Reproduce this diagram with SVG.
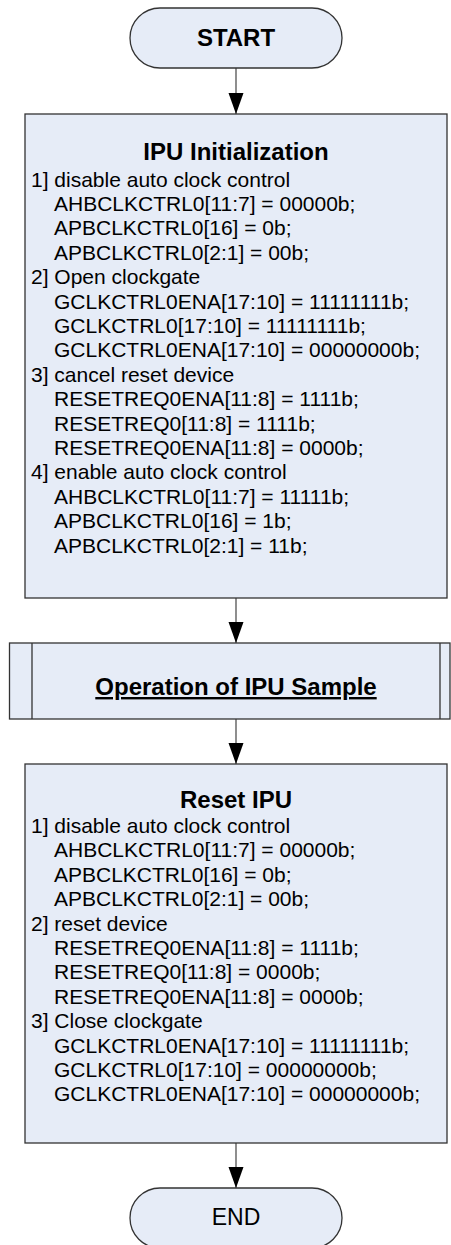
<svg xmlns="http://www.w3.org/2000/svg" width="451" height="1245" viewBox="0 0 451 1245">
  <defs>
    <marker id="arrow" markerWidth="22" markerHeight="16" refX="21" refY="7.5" orient="auto" markerUnits="userSpaceOnUse">
      <path d="M0,0 L21,7.5 L0,15 Z" fill="#000"/>
    </marker>
    <style>
      .box { fill: #E6ECF7; stroke: #333; stroke-width: 1.3; }
      .conn { stroke: #444; stroke-width: 1.2; fill: none; }
      text { font-family: "Liberation Sans", Arial, sans-serif; fill: #000; }
      .head { font-weight: bold; font-size: 24px; text-anchor: middle; }
      .term { font-size: 23px; text-anchor: middle; }
      .body { font-size: 21px; }
    </style>
  </defs>

  <!-- connectors -->
  <g id="connectors">
    <line class="conn" x1="236" y1="68" x2="236" y2="114" marker-end="url(#arrow)"/>
    <line class="conn" x1="236" y1="598" x2="236" y2="643" marker-end="url(#arrow)"/>
    <line class="conn" x1="236" y1="719" x2="236" y2="764" marker-end="url(#arrow)"/>
    <line class="conn" x1="236" y1="1143" x2="236" y2="1188" marker-end="url(#arrow)"/>
  </g>

  <!-- start terminal -->
  <g id="start">
    <rect class="box" x="130" y="8" width="212" height="60" rx="30" ry="30"/>
    <text class="head" x="236" y="46">START</text>
  </g>

  <!-- initialization process -->
  <g id="ipu-init">
    <rect class="box" x="25" y="114" width="422" height="484"/>
    <text class="head" x="236" y="160">IPU Initialization</text>
    <text class="body">
      <tspan x="31" y="186.5">1] disable auto clock control</tspan>
      <tspan x="54" y="210.9">AHBCLKCTRL0[11:7] = 00000b;</tspan>
      <tspan x="54" y="235.3">APBCLKCTRL0[16] = 0b;</tspan>
      <tspan x="54" y="259.7">APBCLKCTRL0[2:1] = 00b;</tspan>
      <tspan x="31" y="284.1">2] Open clockgate</tspan>
      <tspan x="54" y="308.5">GCLKCTRL0ENA[17:10] = 11111111b;</tspan>
      <tspan x="54" y="332.9">GCLKCTRL0[17:10] = 11111111b;</tspan>
      <tspan x="54" y="357.3">GCLKCTRL0ENA[17:10] = 00000000b;</tspan>
      <tspan x="31" y="381.7">3] cancel reset device</tspan>
      <tspan x="54" y="406.1">RESETREQ0ENA[11:8] = 1111b;</tspan>
      <tspan x="54" y="430.5">RESETREQ0[11:8] = 1111b;</tspan>
      <tspan x="54" y="454.9">RESETREQ0ENA[11:8] = 0000b;</tspan>
      <tspan x="31" y="479.3">4] enable auto clock control</tspan>
      <tspan x="54" y="503.7">AHBCLKCTRL0[11:7] = 11111b;</tspan>
      <tspan x="54" y="528.1">APBCLKCTRL0[16] = 1b;</tspan>
      <tspan x="54" y="552.5">APBCLKCTRL0[2:1] = 11b;</tspan>
    </text>
  </g>

  <!-- predefined process -->
  <g id="operation">
    <rect class="box" x="9.5" y="643" width="440.5" height="76"/>
    <line class="box" x1="32" y1="643" x2="32" y2="719"/>
    <line class="box" x1="440" y1="643" x2="440" y2="719"/>
    <text class="head" x="236" y="695" text-decoration="underline">Operation of IPU Sample</text>
  </g>

  <!-- reset process -->
  <g id="reset-ipu">
    <rect class="box" x="25" y="764" width="422" height="379"/>
    <text class="head" x="236" y="808">Reset IPU</text>
    <text class="body">
      <tspan x="31" y="833">1] disable auto clock control</tspan>
      <tspan x="54" y="857.4">AHBCLKCTRL0[11:7] = 00000b;</tspan>
      <tspan x="54" y="881.8">APBCLKCTRL0[16] = 0b;</tspan>
      <tspan x="54" y="906.2">APBCLKCTRL0[2:1] = 00b;</tspan>
      <tspan x="31" y="930.6">2] reset device</tspan>
      <tspan x="54" y="955">RESETREQ0ENA[11:8] = 1111b;</tspan>
      <tspan x="54" y="979.4">RESETREQ0[11:8] = 0000b;</tspan>
      <tspan x="54" y="1003.8">RESETREQ0ENA[11:8] = 0000b;</tspan>
      <tspan x="31" y="1028.2">3] Close clockgate</tspan>
      <tspan x="54" y="1052.6">GCLKCTRL0ENA[17:10] = 11111111b;</tspan>
      <tspan x="54" y="1077">GCLKCTRL0[17:10] = 00000000b;</tspan>
      <tspan x="54" y="1101.4">GCLKCTRL0ENA[17:10] = 00000000b;</tspan>
    </text>
  </g>

  <!-- end terminal -->
  <g id="end">
    <rect class="box" x="130" y="1188" width="212" height="60" rx="30" ry="30"/>
    <text class="term" x="236" y="1225">END</text>
  </g>
</svg>
